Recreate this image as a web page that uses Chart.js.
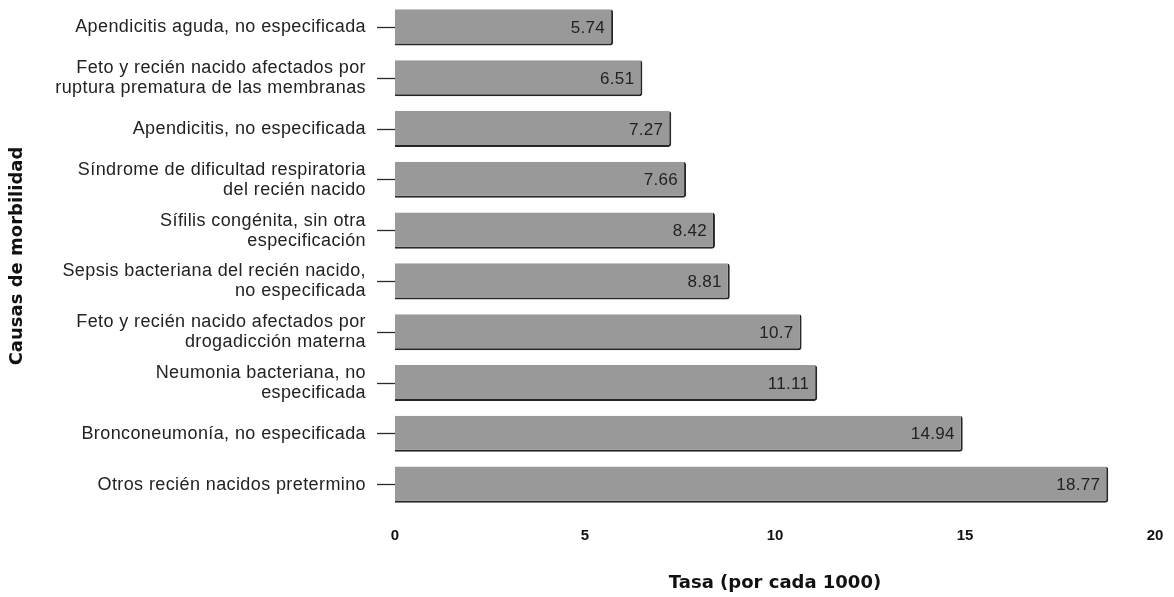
<!DOCTYPE html>
<html>
<head>
<meta charset="utf-8">
<script src="https://cdn.jsdelivr.net/npm/chart.js@4/dist/chart.umd.min.js"></script>
<style>
	body { margin: 0; background: #fff; }
	#Graph { width: 1174px; height: 597px; }
</style>
</head>
<body>
<div id="Graph"><canvas id="myChart"></canvas></div>
<script>
// causes, top to bottom
causas = [
	'Apendicitis aguda, no especificada',
	['Feto y recién nacido afectados por', 'ruptura prematura de las membranas'],
	'Apendicitis, no especificada',
	['Síndrome de dificultad respiratoria', 'del recién nacido'],
	['Sífilis congénita, sin otra', 'especificación'],
	['Sepsis bacteriana del recién nacido,', 'no especificada'],
	['Feto y recién nacido afectados por', 'drogadicción materna'],
	['Neumonia bacteriana, no', 'especificada'],
	'Bronconeumonía, no especificada',
	'Otros recién nacidos pretermino'
]

tasas = [5.74, 6.51, 7.27, 7.66, 8.42, 8.81, 10.7, 11.11, 14.94, 18.77]

x_ticks = [0, 5, 10, 15, 20]

// category labels (drawn here so the letter spacing can match) and values at the bar ends
var textLayer = {
	id: 'textLayer',
	afterDatasetsDraw: function(chart) {
		var ctx = chart.ctx;
		var y = chart.scales.y;
		var meta = chart.getDatasetMeta(0);
		ctx.save();
		ctx.textBaseline = 'middle';
		ctx.textAlign = 'right';

		ctx.font = '18px "Liberation Sans", Arial';
		ctx.fillStyle = '#222';
		if ('letterSpacing' in ctx) ctx.letterSpacing = '0.4px';
		causas.forEach(function(lab, i) {
			var lines = Array.isArray(lab) ? lab : [lab];
			var cy = y.getPixelForValue(i);
			var y0 = cy - (lines.length - 1) * 20 / 2;
			lines.forEach(function(line, k) {
				ctx.fillText(line, y.left + 366, y0 + k * 20);
			});
		});

		ctx.font = '17px "Liberation Sans", Arial';
		if ('letterSpacing' in ctx) ctx.letterSpacing = '0.3px';
		meta.data.forEach(function(bar, i) {
			ctx.fillText(String(tasas[i]), bar.x - 8, bar.y + 1);
		});
		ctx.restore();
	}
}

function load_chart(){
	var ctx = document.getElementById('myChart').getContext('2d');
	var myChart = new Chart(ctx, {
		type: 'bar',
		data: {
			labels: causas,
			datasets: [{
				data: tasas,
				backgroundColor: '#999999',
				borderColor: '#262626',
				borderWidth: {top: 0, left: 0, right: 2, bottom: 2},
				borderSkipped: false,
				borderRadius: {topRight: 3, bottomRight: 3, topLeft: 0, bottomLeft: 0},
				barPercentage: 0.71,
				categoryPercentage: 1.0
			}]
		},
		options: {
			indexAxis: 'y',
			responsive: true,
			maintainAspectRatio: false,
			animation: false,
			layout: {padding: {top: 2, right: 19, bottom: 0, left: 0}},
			plugins: {
				legend: {display: false},
				tooltip: {enabled: false}
			},
			scales: {
				x: {
					min: 0,
					max: 20,
					afterBuildTicks: function(scale) {
						scale.ticks = x_ticks.map(function(v) { return {value: v}; });
					},
					afterFit: function(scale) {
						scale.height = 87;
						scale.paddingLeft = 0;
						scale.paddingRight = 0;
					},
					grid: {display: false, drawTicks: false},
					border: {display: false},
					ticks: {
						color: '#111',
						font: {family: '"Liberation Sans", Arial', size: 15, weight: 'bold'},
						padding: 17,
						maxRotation: 0
					},
					title: {
						display: true,
						text: 'Tasa (por cada 1000)',
						color: '#111',
						font: {family: '"DejaVu Sans"', size: 18, weight: 'bold'},
						padding: {top: 0, bottom: 3}
					}
				},
				y: {
					afterFit: function(scale) { scale.width = 395; },
					grid: {
						display: true,
						offset: false,
						drawOnChartArea: false,
						drawTicks: true,
						tickLength: 18,
						tickColor: '#2a2a2a',
						tickWidth: 1.3
					},
					border: {display: false},
					ticks: {display: false},
					title: {
						display: true,
						text: 'Causas de morbilidad',
						color: '#111',
						font: {family: '"DejaVu Sans"', size: 18, weight: 'bold'},
						padding: {top: 7, bottom: 0}
					}
				}
			}
		},
		plugins: [textLayer]
	});
}

load_chart()
</script>
</body>
</html>
